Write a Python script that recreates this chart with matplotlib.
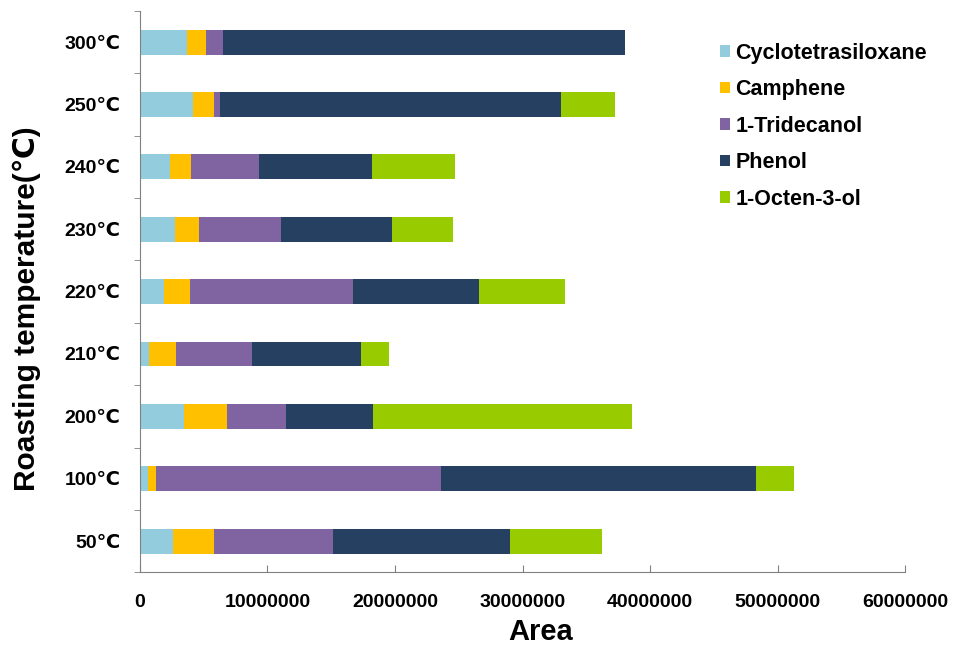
import numpy as np
import matplotlib.pyplot as plt
from matplotlib.patches import Patch

plt.rcParams['font.family'] = ['Liberation Sans', 'DejaVu Sans']

# categories bottom -> top
temps = ['50℃', '100℃', '200℃', '210℃', '220℃', '230℃', '240℃', '250℃', '300℃']

# peak areas
cyclotetrasiloxane = [2.6e6, 0.6e6, 3.45e6, 0.7e6, 1.9e6, 2.75e6, 2.4e6, 4.15e6, 3.7e6]
camphene = [3.2e6, 0.7e6, 3.4e6, 2.1e6, 2.0e6, 1.9e6, 1.6e6, 1.7e6, 1.5e6]
tridecanol = [9.3e6, 22.3e6, 4.6e6, 6.0e6, 12.8e6, 6.4e6, 5.3e6, 0.4e6, 1.3e6]
phenol = [13.9e6, 24.7e6, 6.8e6, 8.5e6, 9.9e6, 8.7e6, 8.9e6, 26.8e6, 31.5e6]
octenol = [7.2e6, 3.0e6, 20.3e6, 2.2e6, 6.7e6, 4.8e6, 6.5e6, 4.2e6, 0.0]

names = ['Cyclotetrasiloxane', 'Camphene', '1-Tridecanol', 'Phenol', '1-Octen-3-ol']
series = [cyclotetrasiloxane, camphene, tridecanol, phenol, octenol]
colors = ['#93CDDD', '#FFC000', '#8064A2', '#254061', '#99CC00']

fig = plt.figure(figsize=(9.58, 6.51), dpi=100)
ax = fig.add_axes([0.146, 0.121, 0.799, 0.862])

y = np.arange(len(temps))
left = np.zeros(len(temps))
for vals, c in zip(series, colors):
    ax.barh(y, vals, left=left, height=0.4, color=c, edgecolor='none')
    left += np.array(vals)

ax.set_xlim(0, 60e6)
ax.set_ylim(-0.5, len(temps) - 0.5)

xt = np.arange(0, 60e6 + 1, 10e6)
ax.set_xticks(xt)
ax.set_xticklabels([str(int(v)) for v in xt], fontsize=14, fontweight='bold')
ax.set_yticks(y)
ax.set_yticklabels(temps, fontsize=14, fontweight='bold')
ax.set_yticks(np.arange(-0.5, len(temps), 1), minor=True)
ax.tick_params(axis='y', which='major', length=0, pad=14)
ax.tick_params(axis='y', which='minor', length=4, direction='out', color='#808080')
ax.tick_params(axis='x', length=5, direction='in', color='#808080', pad=16)

for s in ['top', 'right']:
    ax.spines[s].set_visible(False)
for s in ['left', 'bottom']:
    ax.spines[s].set_color('#808080')

ax.set_xlabel('Area', fontsize=21, fontweight='bold', va='center')
ax.xaxis.set_label_coords(0.524, -0.107)
ax.set_ylabel('Roasting temperature(℃)', fontsize=21.5, fontweight='bold', va='center')
ax.yaxis.set_label_coords(-0.148, 0.47)

handles = [Patch(facecolor=c, edgecolor='none') for c in colors]
ax.legend(handles, names, loc='upper left', bbox_to_anchor=(0.733, 0.978),
          frameon=False, prop={'weight': 'bold', 'size': 15.5},
          handlelength=0.45, handleheight=0.45, handletextpad=0.25, labelspacing=0.72)

fig.savefig('out.png', dpi=100)
